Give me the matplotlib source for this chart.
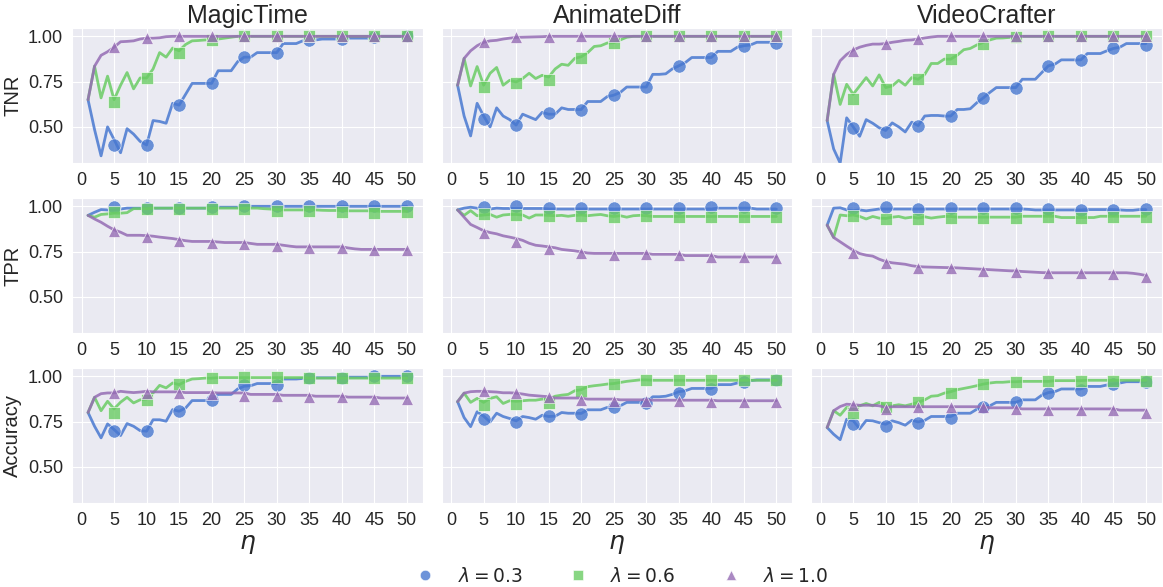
import matplotlib
matplotlib.use('Agg')
import matplotlib.pyplot as plt
import seaborn as sns
from matplotlib.lines import Line2D

sns.set_style('darkgrid')
plt.rcParams['font.family'] = ['Liberation Sans', 'DejaVu Sans']

eta = list(range(1, 51))
eta_mark = [5, 10, 15, 20, 25, 30, 35, 40, 45, 50]

models = ['MagicTime', 'AnimateDiff', 'VideoCrafter']
metrics = ['TNR', 'TPR', 'Accuracy']
lambdas = ['0.3', '0.6', '1.0']

# ---------------- TNR ----------------
tnr_magic_03 = [0.65, 0.485, 0.34, 0.50, 0.43, 0.357, 0.49, 0.46, 0.42, 0.40,
                0.535, 0.53, 0.52, 0.63, 0.62, 0.68, 0.74, 0.74, 0.74, 0.74,
                0.81, 0.81, 0.81, 0.86, 0.885, 0.885, 0.91, 0.91, 0.91, 0.91,
                0.96, 0.96, 0.96, 0.975, 0.98, 0.98, 0.985, 0.985, 0.985, 0.985,
                0.99, 0.99, 0.99, 0.99, 0.99, 1.0, 1.0, 1.0, 1.0, 1.0]
tnr_magic_06 = [0.65, 0.835, 0.66, 0.78, 0.65, 0.73, 0.80, 0.71, 0.77, 0.77,
                0.82, 0.91, 0.885, 0.935, 0.92, 0.955, 0.975, 0.977, 0.98, 0.98,
                0.985, 0.99, 0.995, 1.0, 1.0, 1.0, 1.0, 1.0, 1.0, 1.0,
                1.0, 1.0, 1.0, 1.0, 1.0, 1.0, 1.0, 1.0, 1.0, 1.0,
                1.0, 1.0, 1.0, 1.0, 1.0, 1.0, 1.0, 1.0, 1.0, 1.0]
tnr_magic_10 = [0.65, 0.835, 0.895, 0.915, 0.94, 0.97, 0.972, 0.975, 0.985, 0.99,
                0.99, 0.992, 0.998, 1.0, 1.0, 1.0, 1.0, 1.0, 1.0, 1.0,
                1.0, 1.0, 1.0, 1.0, 1.0, 1.0, 1.0, 1.0, 1.0, 1.0,
                1.0, 1.0, 1.0, 1.0, 1.0, 1.0, 1.0, 1.0, 1.0, 1.0,
                1.0, 1.0, 1.0, 1.0, 1.0, 1.0, 1.0, 1.0, 1.0, 1.0]
tnr_magic_03_m = [0.40, 0.40, 0.62, 0.74, 0.885, 0.91, 0.98, 0.985, 0.995, 1.0]
tnr_magic_06_m = [0.64, 0.77, 0.91, 0.98, 1.0, 1.0, 1.0, 1.0, 1.0, 1.0]
tnr_magic_10_m = [0.94, 0.99, 1.0, 1.0, 1.0, 1.0, 1.0, 1.0, 1.0, 1.0]

tnr_anim_03 = [0.73, 0.56, 0.45, 0.63, 0.56, 0.50, 0.605, 0.56, 0.54, 0.51,
               0.57, 0.555, 0.54, 0.58, 0.57, 0.57, 0.605, 0.596, 0.596, 0.596,
               0.64, 0.64, 0.64, 0.667, 0.675, 0.69, 0.72, 0.72, 0.72, 0.72,
               0.79, 0.79, 0.793, 0.82, 0.837, 0.855, 0.883, 0.883, 0.883, 0.883,
               0.917, 0.917, 0.917, 0.94, 0.948, 0.952, 0.967, 0.967, 0.967, 0.967]
tnr_anim_06 = [0.73, 0.878, 0.726, 0.833, 0.73, 0.796, 0.828, 0.73, 0.757, 0.748,
               0.767, 0.796, 0.767, 0.785, 0.775, 0.82, 0.846, 0.84, 0.878, 0.887,
               0.91, 0.944, 0.948, 0.963, 0.965, 0.98, 0.995, 1.0, 1.0, 1.0,
               1.0, 1.0, 1.0, 1.0, 1.0, 1.0, 1.0, 1.0, 1.0, 1.0,
               1.0, 1.0, 1.0, 1.0, 1.0, 1.0, 1.0, 1.0, 1.0, 1.0]
tnr_anim_10 = [0.73, 0.878, 0.92, 0.948, 0.967, 0.975, 0.978, 0.985, 0.99, 0.994,
               0.995, 0.996, 0.997, 0.998, 1.0, 1.0, 1.0, 1.0, 1.0, 1.0,
               1.0, 1.0, 1.0, 1.0, 1.0, 1.0, 1.0, 1.0, 1.0, 1.0,
               1.0, 1.0, 1.0, 1.0, 1.0, 1.0, 1.0, 1.0, 1.0, 1.0,
               1.0, 1.0, 1.0, 1.0, 1.0, 1.0, 1.0, 1.0, 1.0, 1.0]
tnr_anim_03_m = [0.545, 0.51, 0.575, 0.595, 0.675, 0.72, 0.835, 0.883, 0.945, 0.962]
tnr_anim_06_m = [0.72, 0.744, 0.757, 0.883, 0.963, 1.0, 1.0, 1.0, 1.0, 1.0]
tnr_anim_10_m = [0.967, 0.994, 0.998, 1.0, 1.0, 1.0, 1.0, 1.0, 1.0, 1.0]

tnr_video_03 = [0.535, 0.378, 0.30, 0.55, 0.50, 0.448, 0.54, 0.52, 0.495, 0.48,
                0.522, 0.50, 0.472, 0.526, 0.507, 0.56, 0.563, 0.563, 0.56, 0.56,
                0.596, 0.596, 0.60, 0.633, 0.66, 0.69, 0.717, 0.717, 0.717, 0.717,
                0.763, 0.763, 0.763, 0.80, 0.837, 0.846, 0.87, 0.87, 0.87, 0.87,
                0.905, 0.905, 0.905, 0.92, 0.933, 0.94, 0.96, 0.96, 0.96, 0.96]
tnr_video_06 = [0.535, 0.79, 0.624, 0.735, 0.68, 0.726, 0.772, 0.726, 0.787, 0.717,
                0.726, 0.757, 0.73, 0.772, 0.763, 0.79, 0.85, 0.85, 0.874, 0.874,
                0.896, 0.926, 0.933, 0.952, 0.967, 0.98, 0.99, 0.991, 0.994, 0.996,
                1.0, 1.0, 1.0, 1.0, 1.0, 1.0, 1.0, 1.0, 1.0, 1.0,
                1.0, 1.0, 1.0, 1.0, 1.0, 1.0, 1.0, 1.0, 1.0, 1.0]
tnr_video_10 = [0.535, 0.79, 0.865, 0.90, 0.924, 0.94, 0.95, 0.957, 0.957, 0.96,
                0.967, 0.972, 0.978, 0.98, 0.985, 0.991, 0.996, 1.0, 1.0, 1.0,
                1.0, 1.0, 1.0, 1.0, 1.0, 1.0, 1.0, 1.0, 1.0, 1.0,
                1.0, 1.0, 1.0, 1.0, 1.0, 1.0, 1.0, 1.0, 1.0, 1.0,
                1.0, 1.0, 1.0, 1.0, 1.0, 1.0, 1.0, 1.0, 1.0, 1.0]
tnr_video_03_m = [0.494, 0.47, 0.507, 0.56, 0.66, 0.717, 0.837, 0.87, 0.933, 0.952]
tnr_video_06_m = [0.655, 0.71, 0.763, 0.874, 0.957, 0.995, 1.0, 1.0, 1.0, 1.0]
tnr_video_10_m = [0.92, 0.955, 0.985, 1.0, 1.0, 1.0, 1.0, 1.0, 1.0, 1.0]

# ---------------- TPR ----------------
tpr_magic_03 = [0.95, 0.967, 0.982, 0.98, 0.98, 0.985, 0.99, 0.99, 0.99, 0.99,
                0.99, 0.99, 0.99, 0.99, 0.99, 0.99, 0.99, 0.99, 0.99, 0.995,
                0.995, 0.995, 0.995, 0.995, 1.0, 1.0, 1.0, 1.0, 1.0, 1.0,
                1.0, 1.0, 1.0, 1.0, 1.0, 1.0, 1.0, 1.0, 1.0, 1.0,
                1.0, 1.0, 1.0, 1.0, 1.0, 1.0, 1.0, 1.0, 1.0, 1.0]
tpr_magic_06 = [0.95, 0.94, 0.955, 0.958, 0.962, 0.962, 0.965, 0.987, 0.987, 0.987,
                0.99, 0.99, 0.99, 0.99, 0.99, 0.99, 0.99, 0.99, 0.99, 0.99,
                0.99, 0.99, 0.99, 0.99, 0.99, 0.99, 0.99, 0.987, 0.985, 0.982,
                0.98, 0.98, 0.98, 0.98, 0.98, 0.98, 0.978, 0.977, 0.977, 0.977,
                0.975, 0.975, 0.975, 0.975, 0.975, 0.972, 0.972, 0.972, 0.972, 0.972]
tpr_magic_10 = [0.95, 0.93, 0.912, 0.89, 0.87, 0.857, 0.84, 0.84, 0.84, 0.838,
                0.835, 0.83, 0.826, 0.822, 0.816, 0.81, 0.806, 0.806, 0.806, 0.806,
                0.803, 0.80, 0.80, 0.80, 0.80, 0.795, 0.79, 0.79, 0.79, 0.79,
                0.785, 0.78, 0.776, 0.776, 0.776, 0.776, 0.776, 0.776, 0.776, 0.776,
                0.77, 0.765, 0.762, 0.762, 0.762, 0.762, 0.762, 0.762, 0.762, 0.762]
tpr_magic_03_m = [0.995, 0.99, 0.99, 0.995, 1.0, 1.0, 1.0, 1.0, 1.0, 1.0]
tpr_magic_06_m = [0.97, 0.987, 0.985, 0.985, 0.985, 0.975, 0.975, 0.968, 0.963, 0.968]
tpr_magic_10_m = [0.862, 0.83, 0.81, 0.80, 0.792, 0.78, 0.77, 0.772, 0.758, 0.758]

tpr_anim_03 = [0.98, 0.99, 0.995, 0.99, 0.98, 0.985, 0.99, 0.988, 0.988, 0.988,
               0.988, 0.988, 0.988, 0.988, 0.985, 0.985, 0.985, 0.985, 0.985, 0.985,
               0.985, 0.985, 0.985, 0.985, 0.985, 0.985, 0.985, 0.985, 0.985, 0.985,
               0.985, 0.985, 0.985, 0.985, 0.985, 0.985, 0.985, 0.985, 0.985, 0.985,
               0.99, 0.99, 0.99, 0.99, 0.99, 0.99, 0.985, 0.985, 0.985, 0.985]
tpr_anim_06 = [0.98, 0.95, 0.976, 0.948, 0.952, 0.955, 0.94, 0.952, 0.955, 0.955,
               0.952, 0.935, 0.952, 0.952, 0.95, 0.948, 0.95, 0.945, 0.95, 0.952,
               0.948, 0.952, 0.955, 0.948, 0.944, 0.948, 0.94, 0.948, 0.95, 0.948,
               0.944, 0.944, 0.944, 0.944, 0.944, 0.944, 0.944, 0.944, 0.944, 0.944,
               0.944, 0.944, 0.944, 0.944, 0.944, 0.944, 0.944, 0.944, 0.944, 0.944]
tpr_anim_10 = [0.98, 0.94, 0.90, 0.883, 0.865, 0.855, 0.848, 0.837, 0.83, 0.822,
               0.812, 0.796, 0.785, 0.781, 0.776, 0.771, 0.762, 0.758, 0.754, 0.748,
               0.742, 0.74, 0.74, 0.74, 0.74, 0.74, 0.74, 0.74, 0.74, 0.74,
               0.735, 0.735, 0.735, 0.735, 0.735, 0.728, 0.728, 0.728, 0.728, 0.728,
               0.72, 0.72, 0.72, 0.72, 0.72, 0.72, 0.72, 0.72, 0.72, 0.72]
tpr_anim_03_m = [0.995, 1.0, 0.99, 0.99, 0.99, 0.99, 0.99, 0.995, 0.995, 0.99]
tpr_anim_06_m = [0.955, 0.95, 0.945, 0.948, 0.94, 0.945, 0.94, 0.94, 0.94, 0.94]
tpr_anim_10_m = [0.85, 0.805, 0.765, 0.74, 0.733, 0.735, 0.73, 0.72, 0.718, 0.715]

tpr_video_03 = [0.896, 0.99, 0.992, 0.98, 0.976, 0.98, 0.975, 0.98, 0.985, 0.985,
                0.985, 0.985, 0.985, 0.985, 0.985, 0.985, 0.985, 0.985, 0.985, 0.985,
                0.985, 0.985, 0.985, 0.985, 0.985, 0.985, 0.985, 0.985, 0.985, 0.985,
                0.985, 0.983, 0.98, 0.98, 0.98, 0.98, 0.98, 0.98, 0.98, 0.98,
                0.982, 0.982, 0.982, 0.982, 0.982, 0.98, 0.978, 0.978, 0.982, 0.982]
tpr_video_06 = [0.896, 0.828, 0.952, 0.948, 0.952, 0.944, 0.93, 0.944, 0.935, 0.933,
                0.94, 0.944, 0.935, 0.94, 0.935, 0.942, 0.935, 0.94, 0.944, 0.944,
                0.94, 0.94, 0.94, 0.94, 0.94, 0.94, 0.94, 0.94, 0.94, 0.94,
                0.945, 0.945, 0.945, 0.945, 0.945, 0.945, 0.938, 0.938, 0.938, 0.938,
                0.938, 0.938, 0.945, 0.945, 0.945, 0.945, 0.945, 0.945, 0.945, 0.945]
tpr_video_10 = [0.896, 0.828, 0.804, 0.78, 0.757, 0.739, 0.73, 0.725, 0.708, 0.695,
                0.688, 0.684, 0.68, 0.672, 0.667, 0.665, 0.664, 0.663, 0.662, 0.661,
                0.66, 0.658, 0.656, 0.654, 0.652, 0.65, 0.648, 0.646, 0.644, 0.643,
                0.64, 0.638, 0.636, 0.634, 0.633, 0.633, 0.633, 0.633, 0.633, 0.633,
                0.633, 0.633, 0.633, 0.633, 0.633, 0.633, 0.633, 0.63, 0.625, 0.618]
tpr_video_03_m = [0.99, 0.995, 0.985, 0.99, 0.99, 0.99, 0.985, 0.98, 0.98, 0.985]
tpr_video_06_m = [0.948, 0.932, 0.932, 0.938, 0.935, 0.938, 0.94, 0.935, 0.94, 0.94]
tpr_video_10_m = [0.744, 0.685, 0.661, 0.658, 0.643, 0.638, 0.63, 0.63, 0.625, 0.61]

# ---------------- Accuracy ----------------
acc_magic_03 = [0.80, 0.724, 0.66, 0.737, 0.706, 0.673, 0.739, 0.724, 0.70, 0.697,
                0.76, 0.76, 0.752, 0.816, 0.807, 0.825, 0.866, 0.866, 0.866, 0.87,
                0.90, 0.90, 0.90, 0.93, 0.945, 0.948, 0.96, 0.96, 0.96, 0.96,
                0.985, 0.985, 0.985, 0.988, 0.99, 0.992, 0.992, 0.992, 0.992, 0.992,
                0.995, 0.995, 0.995, 0.995, 0.995, 1.0, 1.0, 1.0, 1.0, 1.0]
acc_magic_06 = [0.80, 0.884, 0.81, 0.862, 0.82, 0.857, 0.884, 0.853, 0.87, 0.874,
                0.908, 0.95, 0.936, 0.963, 0.954, 0.972, 0.985, 0.987, 0.99, 0.99,
                0.993, 0.993, 0.993, 0.993, 0.993, 0.993, 0.993, 0.993, 0.993, 0.993,
                0.993, 0.993, 0.993, 0.993, 0.99, 0.99, 0.99, 0.99, 0.99, 0.99,
                0.99, 0.99, 0.99, 0.99, 0.99, 0.99, 0.99, 0.99, 0.99, 0.99]
acc_magic_10 = [0.80, 0.884, 0.904, 0.908, 0.908, 0.917, 0.913, 0.91, 0.913, 0.917,
                0.914, 0.914, 0.914, 0.914, 0.914, 0.91, 0.91, 0.91, 0.91, 0.91,
                0.908, 0.908, 0.908, 0.908, 0.908, 0.90, 0.90, 0.90, 0.90, 0.90,
                0.895, 0.895, 0.895, 0.895, 0.895, 0.89, 0.89, 0.89, 0.89, 0.89,
                0.885, 0.885, 0.885, 0.885, 0.885, 0.88, 0.88, 0.88, 0.88, 0.88]
acc_magic_03_m = [0.697, 0.697, 0.807, 0.868, 0.95, 0.954, 0.99, 0.992, 1.0, 1.0]
acc_magic_06_m = [0.80, 0.87, 0.955, 0.99, 0.995, 0.995, 0.99, 0.99, 0.988, 0.988]
acc_magic_10_m = [0.908, 0.91, 0.908, 0.90, 0.89, 0.89, 0.885, 0.885, 0.875, 0.875]

acc_anim_03 = [0.86, 0.772, 0.722, 0.804, 0.78, 0.748, 0.796, 0.778, 0.767, 0.754,
               0.778, 0.772, 0.763, 0.785, 0.778, 0.78, 0.80, 0.796, 0.796, 0.795,
               0.815, 0.815, 0.815, 0.828, 0.83, 0.837, 0.856, 0.856, 0.856, 0.856,
               0.887, 0.887, 0.89, 0.90, 0.915, 0.92, 0.933, 0.933, 0.933, 0.933,
               0.954, 0.954, 0.954, 0.963, 0.97, 0.976, 0.98, 0.98, 0.98, 0.98]
acc_anim_06 = [0.86, 0.907, 0.856, 0.878, 0.856, 0.878, 0.887, 0.85, 0.865, 0.862,
               0.865, 0.868, 0.868, 0.874, 0.874, 0.89, 0.896, 0.90, 0.92, 0.926,
               0.943, 0.948, 0.952, 0.957, 0.96, 0.966, 0.972, 0.976, 0.98, 0.98,
               0.978, 0.978, 0.978, 0.978, 0.978, 0.978, 0.978, 0.978, 0.978, 0.978,
               0.978, 0.978, 0.978, 0.978, 0.978, 0.978, 0.978, 0.978, 0.978, 0.978]
acc_anim_10 = [0.86, 0.907, 0.915, 0.917, 0.917, 0.915, 0.913, 0.909, 0.909, 0.907,
               0.902, 0.896, 0.893, 0.89, 0.887, 0.88, 0.88, 0.88, 0.88, 0.88,
               0.874, 0.874, 0.874, 0.874, 0.874, 0.87, 0.87, 0.87, 0.87, 0.87,
               0.868, 0.868, 0.868, 0.868, 0.868, 0.868, 0.868, 0.868, 0.868, 0.868,
               0.865, 0.865, 0.865, 0.865, 0.865, 0.865, 0.865, 0.865, 0.865, 0.865]
acc_anim_03_m = [0.763, 0.75, 0.778, 0.79, 0.83, 0.85, 0.91, 0.93, 0.97, 0.98]
acc_anim_06_m = [0.84, 0.846, 0.855, 0.917, 0.96, 0.98, 0.978, 0.978, 0.978, 0.978]
acc_anim_10_m = [0.917, 0.907, 0.887, 0.87, 0.865, 0.865, 0.861, 0.859, 0.859, 0.86]

acc_video_03 = [0.717, 0.68, 0.65, 0.763, 0.755, 0.71, 0.756, 0.754, 0.744, 0.735,
                0.754, 0.744, 0.73, 0.757, 0.748, 0.757, 0.778, 0.778, 0.778, 0.778,
                0.796, 0.796, 0.796, 0.818, 0.83, 0.837, 0.856, 0.856, 0.856, 0.856,
                0.87, 0.87, 0.87, 0.896, 0.91, 0.915, 0.93, 0.93, 0.93, 0.93,
                0.944, 0.944, 0.944, 0.952, 0.957, 0.963, 0.97, 0.97, 0.97, 0.97]
acc_video_06 = [0.717, 0.81, 0.785, 0.828, 0.82, 0.837, 0.85, 0.837, 0.856, 0.837,
                0.837, 0.843, 0.837, 0.846, 0.856, 0.87, 0.89, 0.893, 0.907, 0.915,
                0.926, 0.933, 0.94, 0.948, 0.957, 0.963, 0.967, 0.967, 0.97, 0.97,
                0.972, 0.972, 0.972, 0.972, 0.972, 0.976, 0.976, 0.976, 0.976, 0.976,
                0.978, 0.978, 0.978, 0.978, 0.978, 0.978, 0.978, 0.978, 0.978, 0.978]
acc_video_10 = [0.717, 0.81, 0.833, 0.846, 0.843, 0.84, 0.84, 0.84, 0.837, 0.828,
                0.832, 0.832, 0.832, 0.832, 0.832, 0.832, 0.832, 0.832, 0.832, 0.832,
                0.832, 0.832, 0.832, 0.832, 0.832, 0.826, 0.826, 0.826, 0.826, 0.826,
                0.82, 0.82, 0.82, 0.82, 0.82, 0.82, 0.82, 0.82, 0.82, 0.82,
                0.82, 0.82, 0.82, 0.82, 0.82, 0.813, 0.813, 0.813, 0.813, 0.813]
acc_video_03_m = [0.735, 0.726, 0.74, 0.768, 0.83, 0.86, 0.91, 0.925, 0.955, 0.97]
acc_video_06_m = [0.80, 0.83, 0.856, 0.91, 0.955, 0.97, 0.972, 0.972, 0.976, 0.976]
acc_video_10_m = [0.84, 0.82, 0.828, 0.83, 0.83, 0.82, 0.815, 0.815, 0.815, 0.80]

lines = {
    'TNR': [(tnr_magic_03, tnr_magic_06, tnr_magic_10),
            (tnr_anim_03, tnr_anim_06, tnr_anim_10),
            (tnr_video_03, tnr_video_06, tnr_video_10)],
    'TPR': [(tpr_magic_03, tpr_magic_06, tpr_magic_10),
            (tpr_anim_03, tpr_anim_06, tpr_anim_10),
            (tpr_video_03, tpr_video_06, tpr_video_10)],
    'Accuracy': [(acc_magic_03, acc_magic_06, acc_magic_10),
                 (acc_anim_03, acc_anim_06, acc_anim_10),
                 (acc_video_03, acc_video_06, acc_video_10)],
}
marks = {
    'TNR': [(tnr_magic_03_m, tnr_magic_06_m, tnr_magic_10_m),
            (tnr_anim_03_m, tnr_anim_06_m, tnr_anim_10_m),
            (tnr_video_03_m, tnr_video_06_m, tnr_video_10_m)],
    'TPR': [(tpr_magic_03_m, tpr_magic_06_m, tpr_magic_10_m),
            (tpr_anim_03_m, tpr_anim_06_m, tpr_anim_10_m),
            (tpr_video_03_m, tpr_video_06_m, tpr_video_10_m)],
    'Accuracy': [(acc_magic_03_m, acc_magic_06_m, acc_magic_10_m),
                 (acc_anim_03_m, acc_anim_06_m, acc_anim_10_m),
                 (acc_video_03_m, acc_video_06_m, acc_video_10_m)],
}

colors = ['#4878D0', '#6ACC64', '#956CB4']
markers = ['o', 's', '^']
msizes = [9.5, 8.5, 9]

fig, axes = plt.subplots(3, 3, figsize=(11.63, 5.87), dpi=100, sharey=True)
fig.subplots_adjust(left=0.062, right=0.999, top=0.952, bottom=0.143,
                    wspace=0.054, hspace=0.26)

for r, metric in enumerate(metrics):
    for c, model in enumerate(models):
        ax = axes[r][c]
        for k in range(3):
            ax.plot(eta, lines[metric][c][k], color=colors[k], lw=2, alpha=0.85)
            ax.plot(eta_mark, marks[metric][c][k], ls='', marker=markers[k],
                    ms=msizes[k], color=colors[k], alpha=0.8, mec='white', mew=0.5)
        ax.set_xticks(range(0, 51, 5))
        ax.set_yticks([0.5, 0.75, 1.0])
        ax.set_yticklabels(['0.50', '0.75', '1.00'])
        ax.set_ylim(0.30, 1.045)
        ax.tick_params(labelsize=13, pad=3)
        if r == 0:
            ax.set_title(model, fontsize=18, pad=4)
        if c == 0:
            ax.set_ylabel(metric, fontsize=14.5)
        if r == 2:
            ax.set_xlabel(r'$\eta$', fontsize=18, labelpad=2)

handles = [Line2D([], [], ls='', marker=markers[k], color=colors[k], alpha=0.8,
                  ms=7.5, mec='white', mew=0.5) for k in range(3)]
labels = [r'$\lambda = ' + l + '$' for l in lambdas]
fig.legend(handles, labels, loc='lower center', bbox_to_anchor=(0.531, -0.026),
           ncol=3, frameon=False, fontsize=13.4, columnspacing=2.0,
           handletextpad=0.72)

plt.savefig('out.png', dpi=100)
